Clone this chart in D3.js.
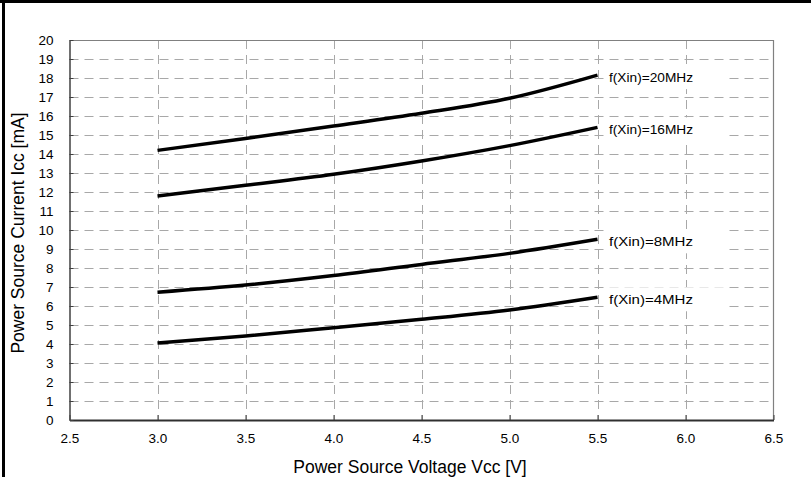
<!DOCTYPE html>
<html>
<head>
<meta charset="utf-8">
<script src="https://cdn.jsdelivr.net/npm/d3@7"></script>
<style>
  html, body { margin: 0; padding: 0; background: #fff; }
  svg { display: block; }
  text { font-family: "Liberation Sans", Arial, sans-serif; fill: #000; }
</style>
</head>
<body>
<svg id="chart" width="811" height="477"></svg>
<script>
// ---- data ----
const voltages = [3.0, 3.5, 4.0, 4.5, 5.0, 5.5];
const seriesNames = ["f(Xin)=20MHz", "f(Xin)=16MHz", "f(Xin)=8MHz", "f(Xin)=4MHz"];
const current20MHz = [14.19, 14.82, 15.47, 16.14, 16.93, 18.15];
const current16MHz = [11.79, 12.35, 12.93, 13.63, 14.44, 15.40];
const current8MHz  = [6.72, 7.10, 7.60, 8.19, 8.77, 9.51];
const current4MHz  = [4.05, 4.42, 4.86, 5.30, 5.79, 6.46];
const xTicks = [2.5, 3.0, 3.5, 4.0, 4.5, 5.0, 5.5, 6.0, 6.5];
const yTicks = d3.range(0, 21, 1);
const xTitle = "Power Source Voltage Vcc [V]";
const yTitle = "Power Source Current Icc [mA]";

const seriesValues = [current20MHz, current16MHz, current8MHz, current4MHz];

// ---- layout ----
const svg = d3.select("#chart");
const L = 69.5, R = 773.5, T = 40, B = 420;
const x = d3.scaleLinear().domain([2.5, 6.5]).range([L, R]);
const y = d3.scaleLinear().domain([0, 20]).range([B, T]);

// outer frame (top and left)
svg.append("rect").attr("x", 0).attr("y", 0).attr("width", 811).attr("height", 3).attr("fill", "#000");
svg.append("rect").attr("x", 2).attr("y", 0).attr("width", 3).attr("height", 477).attr("fill", "#000");

// gridlines
const grid = svg.append("g").attr("stroke", "#a8a8a8").attr("stroke-width", 1).attr("stroke-dasharray", "9,6").attr("fill", "none");
grid.selectAll("line.h").data(yTicks.filter(v => v > 0 && v < 20)).join("line")
  .attr("x1", L).attr("x2", R)
  .attr("y1", d => Math.round(y(d)) + 0.5).attr("y2", d => Math.round(y(d)) + 0.5);
grid.selectAll("line.v").data(xTicks.filter(v => v > 2.5 && v < 6.5)).join("line")
  .attr("y1", T).attr("y2", B)
  .attr("x1", d => Math.round(x(d)) + 0.5).attr("x2", d => Math.round(x(d)) + 0.5);

// plot border top/right
svg.append("line").attr("x1", L).attr("x2", R).attr("y1", T + 0.5).attr("y2", T + 0.5).attr("stroke", "#808080").attr("stroke-width", 1.2);
svg.append("line").attr("x1", R).attr("x2", R).attr("y1", T).attr("y2", B).attr("stroke", "#808080").attr("stroke-width", 1.2);

// axes
const xAxis = svg.append("g").attr("transform", `translate(0,${B})`)
  .call(d3.axisBottom(x).tickValues(xTicks).tickFormat(d3.format(".1f")).tickSizeInner(-5).tickSizeOuter(0).tickPadding(13));
const yAxis = svg.append("g").attr("transform", `translate(${L},0)`)
  .call(d3.axisLeft(y).tickValues(yTicks).tickFormat(d3.format("d")).tickSizeInner(-4).tickSizeOuter(0).tickPadding(16));
xAxis.select(".domain").attr("stroke", "#303030").attr("stroke-width", 1.8);
yAxis.select(".domain").attr("stroke", "#404040").attr("stroke-width", 1.5);
xAxis.selectAll(".tick line").attr("stroke", "#404040");
yAxis.selectAll(".tick line").attr("stroke", "#404040");
xAxis.selectAll("text").attr("font-size", 13.5).attr("font-family", "Liberation Sans, Arial, sans-serif");
yAxis.selectAll("text").attr("font-size", 13.5).attr("font-family", "Liberation Sans, Arial, sans-serif");

// series lines
const line = d3.line().x((d, i) => x(voltages[i])).y(d => y(d)).curve(d3.curveMonotoneX);
svg.append("g").selectAll("path").data(seriesValues).join("path")
  .attr("d", d => line(d))
  .attr("fill", "none").attr("stroke", "#000").attr("stroke-width", 3.5);

// series labels with white background
const lblG = svg.append("g");
seriesValues.forEach((vals, i) => {
  const yy = y(vals[vals.length - 1]) + 2;
  const g = lblG.append("g");
  g.append("rect").attr("x", 605).attr("y", yy - 12).attr("width", 124).attr("height", 24).attr("fill", "#fff");
  g.append("text").attr("x", 609).attr("y", yy + 4.5).attr("font-size", 13)
    .attr("textLength", 84).attr("lengthAdjust", "spacingAndGlyphs")
    .text(seriesNames[i]);
});

// axis titles
svg.append("text").attr("x", 410).attr("y", 473).attr("text-anchor", "middle").attr("font-size", 17.5).text(xTitle);
svg.append("text").attr("transform", "translate(24,233) rotate(-90)").attr("text-anchor", "middle").attr("font-size", 17.5).text(yTitle);
</script>
</body>
</html>
